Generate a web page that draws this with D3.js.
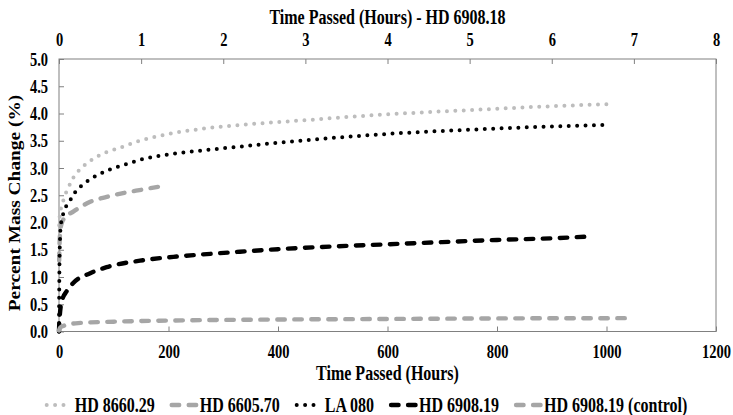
<!DOCTYPE html>
<html>
<head>
<meta charset="utf-8">
<script src="https://cdn.jsdelivr.net/npm/d3@7"></script>
<style>
  body { margin: 0; background: #fff; }
  svg { display: block; }
  text { font-family: "Liberation Serif", "Times New Roman", serif; font-weight: bold; fill: #000; }
</style>
</head>
<body>
<svg id="chart" width="733" height="415"></svg>
<script>
// ---- data ----
const seriesNames = ["HD 8660.29", "HD 6605.70", "LA 080", "HD 6908.19", "HD 6908.19 (control)"];

const hoursHD866029 = [0.3, 1, 2, 5, 11, 17, 26, 41, 57, 87, 111, 148, 209, 270, 331, 440, 592, 745, 891, 1000];
const pctHD866029   = [1.95, 2.08, 2.18, 2.3, 2.5, 2.64, 2.82, 3.0, 3.13, 3.29, 3.37, 3.5, 3.64, 3.73, 3.79, 3.87, 3.98, 4.06, 4.13, 4.17];

const hoursHD660570 = [0.3, 1, 2, 5, 12, 26, 57, 87, 117, 150, 190];
const pctHD660570   = [1.3, 1.6, 1.8, 1.99, 2.1, 2.2, 2.38, 2.47, 2.54, 2.6, 2.67];

const hoursLA080 = [0, 0.3, 0.7, 1.2, 2, 3, 8, 19, 29, 44, 63, 87, 117, 148, 209, 270, 318, 440, 592, 745, 894, 1003];
const pctLA080   = [0, 0.6, 1.1, 1.45, 1.74, 1.92, 2.17, 2.38, 2.55, 2.7, 2.83, 2.95, 3.05, 3.15, 3.26, 3.33, 3.38, 3.5, 3.62, 3.7, 3.76, 3.79];

const hoursHD690819 = [0, 0.5, 1.5, 3, 5, 14, 26, 57, 87, 148, 209, 270, 325, 400, 500, 600, 700, 800, 900, 964];
const pctHD690819   = [0, 0.15, 0.3, 0.45, 0.55, 0.74, 0.89, 1.07, 1.18, 1.3, 1.37, 1.42, 1.46, 1.51, 1.56, 1.6, 1.64, 1.68, 1.71, 1.74];

const hoursControl = [0, 2, 10, 30, 100, 200, 400, 600, 800, 1048];
const pctControl   = [0.02, 0.07, 0.11, 0.15, 0.18, 0.2, 0.22, 0.23, 0.24, 0.245];

const xTicks = [0, 200, 400, 600, 800, 1000, 1200];
const xTopTicks = [0, 1, 2, 3, 4, 5, 6, 7, 8];
const yTicks = [0, 0.5, 1, 1.5, 2, 2.5, 3, 3.5, 4, 4.5, 5];

const titleTop = "Time Passed (Hours) - HD 6908.18";
const titleX = "Time Passed (Hours)";
const titleY = "Percent Mass Change (%)";

// ---- layout ----
const svg = d3.select("#chart");
const L = 59, R = 716, T = 59, B = 331.5;
const K = 1.25;              // vertical stretch of the lettering
const axisGrey = "#808080";

const x = d3.scaleLinear().domain([0, 1200]).range([L, R]);
const xTop = d3.scaleLinear().domain([0, 8]).range([L, R]);
const y = d3.scaleLinear().domain([0, 5]).range([B, T]);

const seriesData = [
  [hoursHD866029, pctHD866029],
  [hoursHD660570, pctHD660570],
  [hoursLA080, pctLA080],
  [hoursHD690819, pctHD690819],
  [hoursControl, pctControl]
].map(([h, p]) => h.map((t, i) => ({ t, v: p[i] })));

const dotted = "0 8.4", dashed = "7.5 9.5";
const styles = [
  { color: "#bdbdbd", dash: dotted, width: 4 },
  { color: "#a6a6a6", dash: dashed, width: 4.4 },
  { color: "#000000", dash: dotted, width: 4 },
  { color: "#000000", dash: dashed, width: 4.4 },
  { color: "#a6a6a6", dash: dashed, width: 4.4 }
];

// places a text element at (0, baseline) of its group, stretched vertically
function stretch(sel, baseline, dx) {
  sel.attr("x", dx || 0).attr("y", 0).attr("dy", null)
     .attr("transform", `translate(0,${baseline}) scale(1,${K})`);
}

// ---- plot frame ----
svg.append("rect")
  .attr("x", L).attr("y", T).attr("width", R - L).attr("height", B - T)
  .attr("fill", "none").attr("stroke", axisGrey).attr("stroke-width", 1);

// ---- axes ----
const tickFont = 14.5;

const gB = svg.append("g").attr("transform", `translate(0,${B})`)
  .call(d3.axisBottom(x).tickValues(xTicks).tickSize(-5).tickFormat(d3.format("d")));
const gT = svg.append("g").attr("transform", `translate(0,${T})`)
  .call(d3.axisTop(xTop).tickValues(xTopTicks).tickSize(-5).tickFormat(d3.format("d")));
const gL = svg.append("g").attr("transform", `translate(${L},0)`)
  .call(d3.axisLeft(y).tickValues(yTicks).tickSize(-5).tickFormat(d3.format(".1f")));

[gB, gT, gL].forEach(g => {
  g.select(".domain").remove();
  g.selectAll(".tick line").attr("stroke", axisGrey);
  g.selectAll(".tick text")
    .attr("font-family", null).attr("font-size", tickFont).attr("fill", "#000");
});
stretch(gB.selectAll(".tick text").attr("text-anchor", "middle"), 26.5);
stretch(gT.selectAll(".tick text").attr("text-anchor", "middle"), -13);
stretch(gL.selectAll(".tick text").attr("text-anchor", "end"), 6.2, -11);

// ---- titles ----
svg.append("text").attr("text-anchor", "middle").attr("font-size", 16)
  .attr("transform", `translate(${(L + R) / 2},24) scale(1,${K})`).text(titleTop);
svg.append("text").attr("text-anchor", "middle").attr("font-size", 16)
  .attr("transform", `translate(${(L + R) / 2},379.5) scale(1,${K})`).text(titleX);
svg.append("text").attr("text-anchor", "middle").attr("font-size", 16)
  .attr("transform", `translate(19.5,203) scale(1,${K * 0.97}) rotate(-90)`).text(titleY);

// ---- series ----
const line = d3.line().x(d => x(d.t)).y(d => y(d.v)).curve(d3.curveMonotoneX);

svg.append("g").selectAll("path")
  .data(seriesData)
  .join("path")
  .attr("d", line)
  .attr("fill", "none")
  .attr("stroke", (d, i) => styles[i].color)
  .attr("stroke-width", (d, i) => styles[i].width)
  .attr("stroke-dasharray", (d, i) => styles[i].dash)
  .attr("stroke-linecap", "round");

// ---- legend ----
const legendY = 405, markerLen = 25, markerGap = 3, itemGap = 17, legendFont = 16;
const legend = svg.append("g");
const items = legend.selectAll("g").data(seriesNames).join("g");
items.append("line")
  .attr("x1", 0).attr("x2", markerLen).attr("y1", 0).attr("y2", 0)
  .attr("stroke", (d, i) => styles[i].color)
  .attr("stroke-width", (d, i) => styles[i].width)
  .attr("stroke-dasharray", (d, i) => styles[i].dash)
  .attr("stroke-linecap", "round");
items.append("text")
  .attr("font-size", legendFont)
  .attr("transform", `translate(${markerLen + markerGap},6.5) scale(1,${K})`)
  .text(d => d);

let widths = [];
items.each(function () { widths.push(this.getBBox().width); });
const total = d3.sum(widths) + itemGap * (widths.length - 1);
let cx = 365 - total / 2;
items.attr("transform", (d, i) => {
  const tx = cx + 2;
  cx += widths[i] + itemGap;
  return `translate(${tx},${legendY})`;
});
</script>
</body>
</html>
